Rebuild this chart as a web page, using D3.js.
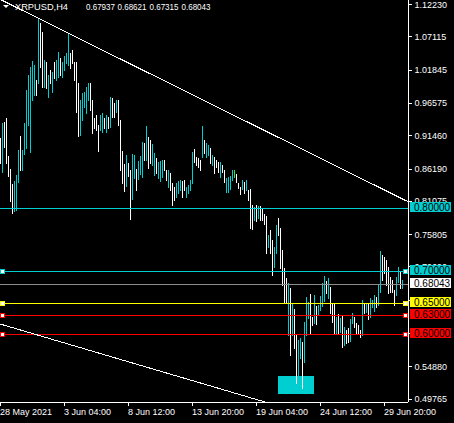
<!DOCTYPE html>
<html>
<head>
<meta charset="UTF-8">
<title>XRPUSD,H4</title>
<style>
  body { margin: 0; background: #000; }
  svg { display: block; font-family: "Liberation Sans", Arial, sans-serif; }
</style>
</head>
<body>
<div id="chart"></div>
<script src="https://cdn.jsdelivr.net/npm/d3@7"></script>
<script>
// H4 bars, one per column (high / low / direction)
const highs = [
  .9111, .9349, .9365, .9428, .8826, .8620, .8383, .8430, .8525, .8921,
  .9143, .8921, .9349, .9872, 1.0109, 1.0236, 1.0331, 1.0268, 1.0030, 1.1012,
  1.0933, 1.0791, 1.0347, 1.0315, 1.0109, 1.0188, 1.0157, 1.0315, 1.0347, 1.0474,
  1.0379, 1.0315, 1.0410, 1.0458, 1.0775, 1.0458, 1.0506, 1.0315, 1.0315, .9983,
  .9713, .9824, .9840, .9919, .9983, .9983, .9713, .9428, .9476, .9317,
  .9476, .9507, .9428, .9476, .9444, .9761, .9745, .9666, .9713, .9713,
  .9396, .8905, .8699, .8842, .8715, .8604, .8858, .8842, .8620, .8747,
  .8826, .9048, .9032, .9301, .9127, .9080, .9016, .8874, .8794, .8731,
  .8747, .8763, .8763, .8604, .8604, .8557, .8398, .8335, .8398, .8430,
  .8446, .8430, .8446, .8335, .8367, .8446, .8890, .8937, .8810, .8794,
  .8763, .9301, .9080, .9032, .9000, .8953, .8842, .8810, .8763, .8731,
  .8731, .8684, .8604, .8478, .8493, .8509, .8604, .8604, .8541, .8398,
  .8335, .8446, .8414, .8446, .8287, .8303, .8050, .8018, .8050, .8034,
  .8034, .7987, .7907, .7876, .7575, .7654, .7495, .7385, .7733, .7844,
  .7686, .7337, .7052, .6893, .6814, .6735, .6497, .6402, .5991, .5911,
  .5943, .5880, .6196, .6593, .6513, .6640, .6276, .6624, .6450, .6466,
  .6608, .6814, .6925, .6846, .6893, .6751, .6497, .6497, .6276, .6323,
  .6260, .6307, .6117, .6070, .6101, .6244, .6339, .6276, .6181, .6149,
  .6070, .6545, .6497, .6482, .6497, .6577, .6545, .6624, .6593, .6783,
  .7321, .7258, .7226, .7179, .7068, .6909, .6862, .6703, .6909, .7068,
  .6989, .68621
];
const lows = [
  .8715, .8573, .8969, .8715, .8509, .8113, .7923, .7955, .7971, .8414,
  .8604, .8604, .8858, .8953, .9317, .8890, .9713, .9793, .9793, .9983,
  1.0236, .9919, .9919, .9903, .9761, .9983, .9840, 1.0062, 1.0030, 1.0078,
  1.0109, 1.0078, 1.0188, 1.0299, 1.0268, 1.0220, 1.0299, 1.0030, .9523, .9143,
  .9159, .9396, .9602, .9507, .9713, .9555, .9191, .9270, .9238, .8905,
  .9238, .9206, .9270, .9206, .9270, .9286, .9444, .9444, .9523, .9317,
  .8604, .8398, .8272, .8351, .8509, .7828, .8145, .8478, .8287, .8462,
  .8541, .8493, .8763, .8763, .8636, .8715, .8684, .8525, .8557, .8478,
  .8430, .8493, .8604, .8446, .8335, .8287, .8050, .8129, .8177, .8240,
  .8287, .8177, .8287, .8177, .8240, .8287, .8398, .8731, .8684, .8652,
  .8604, .8810, .8874, .8810, .8842, .8715, .8684, .8557, .8652, .8573,
  .8493, .8573, .8414, .8256, .8256, .8303, .8446, .8493, .8414, .8319,
  .8224, .8303, .8240, .8287, .8129, .7686, .7670, .7812, .7796, .7844,
  .7812, .7812, .7749, .7289, .7385, .7289, .6941, .7068, .7289, .7575,
  .7052, .6783, .6513, .6513, .5991, .5674, .5991, .5785, .5230, .5278,
  .5626, .5151, .5563, .5991, .6260, .6006, .6149, .6181, .6165, .6307,
  .6387, .6450, .6529, .6656, .6577, .6339, .6196, .6022, .6022, .6022,
  .6038, .5800, .5832, .5864, .5880, .5896, .6181, .6117, .6022, .6022,
  .5959, .5991, .6339, .6355, .6244, .6276, .6434, .6371, .6434, .6466,
  .6672, .6862, .6973, .6783, .6656, .6672, .6672, .6466, .6624, .6830,
  .6735, .67315
];
// u = up bar, d = down bar, n = unchanged
const dirs = ("duddddduuu duuuuuuudu ddudududuu duuuuddddd uuuuuddddd " +
  "uudududdud dddudduudu uududduudu uudduddduu udduuuuddd " +
  "duduududdd udduuuundd dududddudu ddddudduud ddddududdu " +
  "uduuuddudu uuududddud ududduuddd dududuuudu uddddddduu du").replace(/ /g, "").split("");

const symbol = "XRPUSD,H4";
const lastBar = ["0.67937", "0.68621", "0.67315", "0.68043"];
const bid = 0.68043;
const levels = [0.80, 0.70, 0.65, 0.63, 0.60];
const yTicks = [1.12230, 1.07115, 1.01845, 0.96575, 0.91460, 0.86190, 0.81075,
  0.75805, 0.70690, 0.65420, 0.60150, 0.54880, 0.49765];
const xTickBars = [0, 32, 64, 96, 128, 160, 192];
const xTickLabels = ["28 May 2021", "3 Jun 04:00", "8 Jun 12:00", "13 Jun 20:00",
  "19 Jun 04:00", "24 Jun 12:00", "29 Jun 20:00"];
// trend lines: two anchor points each, [bar, price]
const trendLines = [
  [[18.9, 1.1008], [204.1, 0.8097]],
  [[-0.25, 0.6165], [132.25, 0.4929]]
];
const zoneBars = [138.75, 156.75];
const zonePrices = [0.5341, 0.5056];

// styles
const CYAN = "#00ced1";
const barColor = { u: CYAN, d: "#ffffff", n: "#32e632" };
const levelColor = [CYAN, CYAN, "#ffff00", "#ff0000", "#ff0000"];
const levelMarker = [false, true, true, true, true];

const W = 408, H = 402;
const svg = d3.select("#chart").append("svg")
  .attr("width", 454).attr("height", 423)
  .style("background", "#000");

const x = d3.scaleLinear().domain([0, 204]).range([0.5, 408.5]);
const y = d3.scaleLinear().domain([0.4929, 1.12975]).range([H, 0]);
const row = v => Math.round(y(v)) + 0.5;

svg.append("defs").append("clipPath").attr("id", "plot")
  .append("rect").attr("width", W).attr("height", H);
const plot = svg.append("g").attr("clip-path", "url(#plot)");

// filled zone (background object)
plot.append("rect")
  .attr("x", Math.round(x(zoneBars[0])))
  .attr("y", Math.round(y(zonePrices[0])))
  .attr("width", Math.round(x(zoneBars[1]) - x(zoneBars[0])))
  .attr("height", Math.round(y(zonePrices[1]) - y(zonePrices[0])))
  .attr("fill", CYAN);

// bars
const bars = highs.map((h, i) => ({ i, h, l: lows[i], d: dirs[i] }));
plot.selectAll("line.bar").data(bars).join("line")
  .attr("class", "bar")
  .attr("x1", d => x(d.i)).attr("x2", d => x(d.i))
  .attr("y1", d => Math.round(y(d.h)))
  .attr("y2", d => Math.round(y(d.l)) + 1)
  .attr("stroke", d => barColor[d.d])
  .attr("stroke-width", 1)
  .attr("shape-rendering", "crispEdges");

// horizontal levels
plot.selectAll("line.level").data(levels).join("line")
  .attr("class", "level")
  .attr("x1", 0).attr("x2", W)
  .attr("y1", d => row(d)).attr("y2", d => row(d))
  .attr("stroke", (d, i) => levelColor[i])
  .attr("shape-rendering", "crispEdges");

// bid line
plot.append("line")
  .attr("x1", 0).attr("x2", W)
  .attr("y1", row(bid)).attr("y2", row(bid))
  .attr("stroke", "#8c8c8c")
  .attr("shape-rendering", "crispEdges");

// trend lines, extended across the plot
const at = (t, b) => t[0][1] + (t[1][1] - t[0][1]) * (b - t[0][0]) / (t[1][0] - t[0][0]);
plot.selectAll("line.trend").data(trendLines).join("line")
  .attr("class", "trend")
  .attr("x1", x(-2)).attr("x2", x(206))
  .attr("y1", d => y(at(d, -2))).attr("y2", d => y(at(d, 206)))
  .attr("stroke", "#fff").attr("stroke-width", 1)
  .attr("shape-rendering", "crispEdges");

// level markers (left and right)
const marks = levels.map((v, i) => ({ v, i })).filter(d => levelMarker[d.i]);
[0.5, 403.5].forEach(mx => {
  plot.selectAll(null).data(marks).join("rect")
    .attr("x", mx).attr("y", d => row(d.v) - 2)
    .attr("width", 4).attr("height", 4)
    .attr("fill", "#fff")
    .attr("stroke", d => levelColor[d.i])
    .attr("shape-rendering", "crispEdges");
});

// price tags on the right scale
const tags = levels.map((v, i) => ({ v, bg: levelColor[i] }))
  .concat([{ v: bid, bg: "#fff" }]);
// a scale label sitting right under a tag is hidden by it
const covered = t => tags.some(g => Math.abs(y(t) - y(g.v)) < 4);

// axes
const yAxis = d3.axisRight(y).tickValues(yTicks).tickSize(3).tickSizeOuter(0)
  .tickFormat(d => covered(d) ? "" : d3.format(".5f")(d)).offset(0);
const gy = svg.append("g").attr("transform", `translate(${W + 0.5},0)`).call(yAxis);
const xAxis = d3.axisBottom(x).tickValues(xTickBars).tickSize(3).tickSizeOuter(0)
  .tickFormat((d, i) => xTickLabels[i]).offset(0);
const gx = svg.append("g").attr("transform", `translate(-0.5,${H + 0.5})`).call(xAxis);
[gy, gx].forEach(g => {
  g.attr("shape-rendering", "crispEdges");
  g.select(".domain").attr("stroke", "#fff");
  g.selectAll(".tick line").attr("stroke", "#fff");
  g.selectAll(".tick text").attr("fill", "#fff")
    .attr("font-size", 9).attr("font-family", "Liberation Sans, Arial, sans-serif");
});
gx.selectAll(".tick text").attr("text-anchor", "start");
gy.selectAll(".tick text").attr("x", 6);

const tag = svg.selectAll("g.tag").data(tags).join("g").attr("class", "tag");
tag.append("rect")
  .attr("x", 410).attr("y", d => Math.round(y(d.v)) - 6)
  .attr("width", 41).attr("height", 10)
  .attr("fill", d => d.bg);
tag.append("text")
  .attr("x", 414).attr("y", d => Math.round(y(d.v)) + 3)
  .attr("font-size", 10).attr("fill", "#000")
  .text(d => d.v.toFixed(5));

// header
svg.append("path").attr("d", "M3,5H9L6,8Z").attr("fill", "#fff");
const head = [symbol].concat(lastBar);
const headX = [15, 86, 117.5, 149.5, 181.5];
svg.selectAll("text.head").data(head).join("text")
  .attr("class", "head")
  .attr("x", (d, i) => headX[i]).attr("y", 10)
  .attr("font-size", 9)
  .attr("textLength", (d, i) => i ? 29 : 53)
  .attr("lengthAdjust", "spacingAndGlyphs")
  .attr("fill", "#fff")
  .text(d => d);
</script>
</body>
</html>
